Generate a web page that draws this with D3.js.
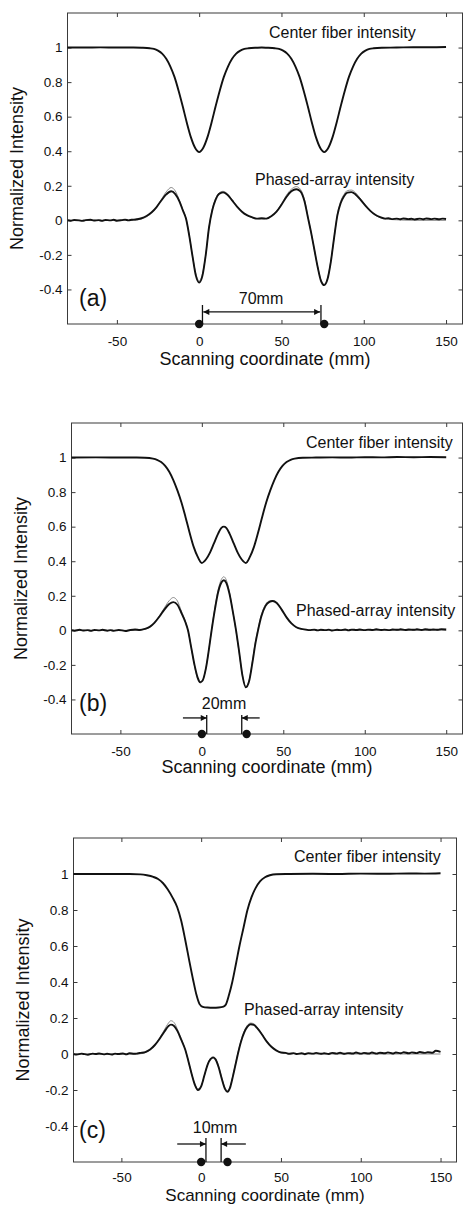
<!DOCTYPE html>
<meta charset="utf-8">
<head>
    <title>Center fiber and phased-array scans</title>
    <script src="https://cdn.jsdelivr.net/npm/d3@7/dist/d3.min.js"></script>
</head>

<style>
    body { margin: 0; background: #fff; }
    text { font-family: "Liberation Sans", Arial, sans-serif; fill: #111; }
    .frame { fill: none; stroke: #3a3a3a; stroke-width: 1; }
    .tick line { stroke: #3a3a3a; }
    .tick text { font-size: 13.5px; }
    .meas { fill: none; stroke: #111; stroke-width: 1.9; }
    .sim { fill: none; stroke: #8a8a8a; stroke-width: 1; }
    .note { stroke: #111; stroke-width: 1.3; fill: none; }
</style>

<svg width="463" height="1205"></svg>

<script>
    // axis settings shared by the three panels
    var xDomain = [-80, 160];
    var yDomain = [-0.6, 1.2];
    var xTicks = [-50, 0, 50, 100, 150];
    var yTicks = [-0.4, -0.2, 0, 0.2, 0.4, 0.6, 0.8, 1];

    // (a) two targets, 70mm apart
    var centerA = [[-80,1.0],[-70,1.0],[-60,1.001],[-50,1.0],[-40,1.0],[-35,0.999],[-30,0.996],[-27.5,0.992],[-25,0.982],[-22.5,0.965],[-20,0.935],[-17.5,0.89],[-15,0.83],[-12.5,0.75],[-10,0.66],[-7.5,0.565],[-5,0.48],[-2.5,0.42],[0,0.395],[2.5,0.42],[5,0.48],[7.5,0.565],[10,0.66],[12.5,0.75],[15,0.83],[17.5,0.89],[20,0.935],[22.5,0.965],[25,0.982],[27.5,0.992],[30,0.996],[35,0.999],[38,1.0],[41,0.999],[46,0.996],[48.5,0.992],[51,0.982],[53.5,0.965],[56,0.935],[58.5,0.89],[61,0.83],[63.5,0.75],[66,0.66],[68.5,0.565],[71,0.48],[73.5,0.42],[76,0.395],[78.5,0.42],[81,0.48],[83.5,0.565],[86,0.66],[88.5,0.75],[91,0.83],[93.5,0.89],[96,0.935],[98.5,0.965],[101,0.982],[103.5,0.992],[106,0.996],[111,0.999],[120,1.0],[130,1.002],[140,1.002],[150,1.003]];
    var phasedA = [[-80,0.001],[-78,-0.002],[-76,0.002],[-73,0.0],[-71,-0.003],[-69,0.001],[-66,0.003],[-64,-0.001],[-61,0.001],[-59,-0.003],[-57,0.002],[-54,0.0],[-52,0.003],[-50,-0.002],[-47,0.001],[-45,0.004],[-43,0.0],[-41,0.003],[-38,0.006],[-35,0.012],[-32,0.025],[-29,0.045],[-26,0.075],[-23,0.115],[-20,0.15],[-17,0.168],[-14.5,0.152],[-12,0.11],[-10,0.06],[-8,0.01],[-6,-0.09],[-4,-0.21],[-2,-0.32],[0,-0.36],[2,-0.32],[4,-0.2],[6,-0.04],[8,0.06],[10,0.12],[12,0.152],[14.5,0.162],[17,0.15],[20,0.115],[23,0.08],[26,0.05],[29,0.03],[32,0.018],[35,0.01],[38,0.012],[41,0.01],[44,0.025],[47,0.05],[50,0.09],[53,0.135],[56,0.168],[59,0.18],[61.5,0.168],[64,0.11],[66,0.02],[68,-0.07],[70,-0.17],[72,-0.27],[74,-0.35],[76,-0.375],[78,-0.34],[80,-0.24],[82,-0.1],[84,0.03],[86,0.1],[88,0.14],[90,0.16],[92.5,0.163],[95,0.15],[98,0.12],[101,0.085],[104,0.055],[107,0.032],[110,0.018],[113,0.01],[115,0.012],[117,0.007],[120,0.01],[122,0.006],[124,0.011],[127,0.007],[129,0.009],[131,0.005],[134,0.01],[136,0.006],[138,0.011],[141,0.007],[143,0.01],[146,0.006],[148,0.01],[150,0.008]];
    var simA = [[-80,0],[-40,0],[-35,0.008],[-32,0.02],[-29,0.042],[-26,0.075],[-23,0.12],[-20,0.165],[-17,0.19],[-14.5,0.17],[-12,0.115],[-10,0.065],[-8,0.01],[-6,-0.09],[-4,-0.21],[-2,-0.31],[0,-0.35],[2,-0.31],[4,-0.2],[6,-0.04],[8,0.065],[10,0.125],[12,0.158],[14.5,0.168],[17,0.155],[20,0.12],[23,0.082],[26,0.05],[29,0.03],[32,0.016],[35,0.01],[38,0.008],[41,0.012],[44,0.025],[47,0.052],[50,0.095],[53,0.145],[56,0.18],[59,0.195],[61.5,0.18],[64,0.12],[66,0.025],[68,-0.07],[70,-0.17],[72,-0.27],[74,-0.345],[76,-0.37],[78,-0.335],[80,-0.235],[82,-0.1],[84,0.035],[86,0.11],[88,0.15],[90,0.172],[92.5,0.175],[95,0.16],[98,0.125],[101,0.088],[104,0.055],[107,0.03],[110,0.015],[115,0.006],[120,0.003],[130,0],[150,0]];
    var dotsA = [0, 76];
    var barsA = [2, 74];

    // (b) two targets, 20mm apart
    var centerB = [[-80,1.0],[-65,1.001],[-50,1.0],[-40,1.0],[-35,0.999],[-30,0.994],[-27.5,0.987],[-25,0.974],[-22.5,0.952],[-20,0.918],[-17.5,0.87],[-15,0.81],[-12.5,0.74],[-10,0.655],[-7.5,0.565],[-5,0.483],[-2.5,0.425],[0,0.39],[2.5,0.41],[5,0.45],[7.5,0.505],[10,0.56],[12,0.593],[13.5,0.6],[15,0.593],[17,0.56],[19.5,0.505],[22,0.45],[24.5,0.41],[27,0.39],[29.5,0.425],[32,0.483],[34.5,0.565],[37,0.655],[39.5,0.74],[42,0.81],[44.5,0.87],[47,0.918],[49.5,0.952],[52,0.974],[54.5,0.987],[57,0.994],[62,0.999],[70,1.0],[80,1.001],[90,1.0],[100,1.002],[110,1.001],[120,1.003],[130,1.002],[140,1.003],[150,1.002]];
    var phasedB = [[-80,0.001],[-78,-0.002],[-75,0.003],[-73,-0.001],[-70,0.001],[-68,-0.003],[-66,0.002],[-63,0.0],[-61,0.003],[-58,-0.002],[-56,0.001],[-54,-0.003],[-51,0.002],[-49,0.0],[-47,-0.004],[-44,0.002],[-41,0.005],[-38,0.002],[-35,0.008],[-32,0.02],[-29,0.045],[-26,0.08],[-23,0.12],[-20,0.152],[-17.5,0.163],[-15,0.148],[-12.5,0.1],[-10,0.045],[-8.5,0.0],[-6.5,-0.1],[-4.5,-0.2],[-2.5,-0.275],[-1,-0.3],[0.5,-0.29],[2.5,-0.22],[4.5,-0.1],[6,0.0],[8,0.12],[10,0.22],[12,0.277],[13.5,0.29],[15,0.275],[17,0.21],[19,0.11],[21,0.0],[23,-0.13],[25,-0.265],[27,-0.33],[29,-0.295],[31,-0.19],[33,-0.07],[34.5,0.0],[36.5,0.08],[39,0.14],[41.5,0.165],[43.5,0.17],[46,0.158],[49,0.12],[52,0.075],[55,0.04],[58,0.018],[61,0.008],[64,0.004],[66,0.001],[69,0.004],[71,0.0],[73,0.003],[76,0.001],[78,0.004],[80,-0.001],[83,0.003],[85,0.001],[88,0.005],[90,0.0],[92,0.004],[95,0.002],[97,0.005],[100,0.001],[102,0.004],[105,0.002],[107,0.006],[110,0.002],[112,0.004],[115,0.001],[117,0.005],[120,0.003],[122,0.006],[125,0.002],[127,0.005],[130,0.003],[132,0.006],[135,0.002],[137,0.006],[140,0.003],[142,0.005],[145,0.003],[147,0.007],[150,0.005]];
    var simB = [[-80,0],[-40,0],[-35,0.006],[-32,0.018],[-29,0.045],[-26,0.085],[-23,0.13],[-20,0.172],[-17.5,0.19],[-15,0.17],[-12.5,0.11],[-10,0.05],[-8.5,0.0],[-6.5,-0.1],[-4.5,-0.205],[-2.5,-0.285],[-1,-0.305],[0.5,-0.29],[2.5,-0.22],[4.5,-0.1],[6,0.005],[8,0.13],[10,0.235],[12,0.295],[13.5,0.31],[15,0.292],[17,0.22],[19,0.11],[21,-0.005],[23,-0.135],[25,-0.265],[27,-0.325],[29,-0.29],[31,-0.18],[33,-0.06],[34.5,0.01],[36.5,0.09],[39,0.148],[41.5,0.17],[43.5,0.172],[46,0.16],[49,0.12],[52,0.075],[55,0.04],[58,0.018],[61,0.007],[65,0.002],[75,0],[150,0]];
    var dotsB = [0, 27.5];
    var barsB = [3, 24.5];

    // (c) two targets, 10mm apart
    var centerC = [[-80,1.0],[-60,1.0],[-45,1.0],[-38,0.998],[-34,0.993],[-30,0.984],[-27,0.972],[-24,0.95],[-21,0.915],[-18,0.87],[-15,0.815],[-12.5,0.74],[-10,0.635],[-7.5,0.52],[-5,0.41],[-3,0.33],[-1,0.277],[1,0.262],[4,0.258],[7.5,0.257],[11,0.258],[14,0.263],[15.5,0.275],[17.5,0.33],[19.5,0.4],[22,0.51],[24,0.6],[26.5,0.7],[29,0.8],[31.5,0.87],[34,0.92],[37,0.96],[40,0.982],[43,0.993],[47,0.999],[55,1.0],[70,1.001],[85,1.0],[100,1.002],[115,1.001],[130,1.003],[140,1.002],[150,1.004]];
    var phasedC = [[-80,0.0],[-78,-0.003],[-75,0.002],[-73,-0.001],[-71,-0.004],[-68,0.002],[-66,0.0],[-64,0.003],[-61,-0.002],[-59,0.001],[-56,-0.003],[-54,0.002],[-52,0.0],[-49,0.003],[-47,-0.002],[-45,0.004],[-42,0.001],[-40,0.003],[-38,0.006],[-35,0.011],[-32,0.025],[-29,0.05],[-26,0.085],[-23,0.125],[-20.5,0.155],[-19,0.163],[-17,0.156],[-15,0.13],[-12.5,0.08],[-10,0.025],[-8,-0.04],[-6,-0.11],[-4,-0.17],[-2,-0.2],[0,-0.18],[2,-0.12],[4,-0.06],[6,-0.027],[7.5,-0.02],[9,-0.03],[11,-0.075],[13,-0.14],[15,-0.195],[16.5,-0.21],[18,-0.19],[20,-0.12],[22,-0.04],[23,0.0],[25,0.07],[27,0.12],[29,0.152],[31,0.165],[33,0.162],[35,0.145],[38,0.11],[41,0.07],[44,0.04],[47,0.02],[50,0.008],[53,0.006],[55,0.001],[58,0.005],[60,0.0],[63,0.004],[65,-0.001],[67,0.005],[70,0.002],[72,0.006],[75,0.001],[77,0.004],[80,0.0],[82,0.006],[85,0.002],[87,0.007],[90,0.001],[92,0.005],[95,0.003],[97,0.008],[100,0.002],[102,0.006],[105,0.003],[107,0.008],[110,0.002],[112,0.007],[115,0.004],[117,0.009],[120,0.003],[122,0.008],[125,0.004],[127,0.01],[130,0.004],[132,0.009],[135,0.005],[137,0.011],[140,0.006],[142,0.01],[145,0.007],[147,0.018],[150,0.012]];
    var simC = [[-80,0],[-40,0],[-35,0.008],[-32,0.022],[-29,0.05],[-26,0.09],[-23,0.135],[-20.5,0.172],[-19,0.185],[-17,0.175],[-15,0.14],[-12.5,0.085],[-10,0.025],[-8,-0.04],[-6,-0.11],[-4,-0.165],[-2,-0.195],[0,-0.178],[2,-0.12],[4,-0.058],[6,-0.022],[7.5,-0.015],[9,-0.025],[11,-0.07],[13,-0.135],[15,-0.19],[16.5,-0.205],[18,-0.185],[20,-0.115],[22,-0.035],[23,0.005],[25,0.075],[27,0.128],[29,0.16],[31,0.172],[33,0.168],[35,0.15],[38,0.112],[41,0.072],[44,0.042],[47,0.02],[50,0.008],[55,0.002],[65,0],[150,0]];
    var dotsC = [0, 16.5];
    var barsC = [3, 12.5];

    // page layout of each panel (pixels)
    var panels = [
        { tag: "(a)", gap: "70mm", center: centerA, phased: phasedA, sim: simA, dots: dotsA, bars: barsA,
          box: [67.5, 462.5, 13, 324], ylab: 23, pad: 12, title: [41, 18], cLab: [269, 38], pLab: [255, 185], tagPos: [79, 306], gapPos: [261, 304],
          barTop: -0.49, arrowY: -0.53, arrows: [[2.5, 73.5, "both"]] },
        { tag: "(b)", gap: "20mm", center: centerB, phased: phasedB, sim: simB, dots: dotsB, bars: barsB,
          box: [71.5, 462.5, 423, 734], ylab: 26.5, pad: 12, title: [39, 18], cLab: [306, 448], pLab: [296, 616], tagPos: [79, 711], gapPos: [224, 709],
          barTop: -0.49, arrowY: -0.507, arrows: [[-11.6, 3, "end"], [35.5, 24.5, "end"]] },
        { tag: "(c)", gap: "10mm", center: centerC, phased: phasedC, sim: simC, dots: dotsC, bars: barsC,
          box: [73.5, 456.5, 838, 1162], ylab: 28.5, pad: 10.5, title: [39.3, 17], cLab: [294, 862], pLab: [244, 1015], tagPos: [79, 1138], gapPos: [215, 1133],
          barTop: -0.467, arrowY: -0.5, arrows: [[-15, 3, "end"], [28, 12.5, "end"]] }
    ];

    var svg = d3.select("svg");

    svg.append("defs").append("marker")
        .attr("id", "head")
        .attr("viewBox", "0 0 10 10")
        .attr("refX", 10).attr("refY", 5)
        .attr("markerUnits", "userSpaceOnUse")
        .attr("markerWidth", 8).attr("markerHeight", 6)
        .attr("orient", "auto-start-reverse")
        .append("path").attr("d", "M0,0L10,5L0,10Z").attr("fill", "#111");

    panels.forEach(function (p) {
        var x = d3.scaleLinear().domain(xDomain).range([p.box[0], p.box[1]]);
        var y = d3.scaleLinear().domain(yDomain).range([p.box[3], p.box[2]]);
        var g = svg.append("g");

        // ticks on all four sides, pointing in
        g.append("g").attr("transform", "translate(0," + p.box[3] + ")")
            .call(d3.axisBottom(x).tickValues(xTicks).tickSize(-4).tickPadding(p.pad).tickFormat(String));
        g.append("g").attr("transform", "translate(0," + p.box[2] + ")")
            .call(d3.axisTop(x).tickValues(xTicks).tickSize(-4).tickFormat(""));
        g.append("g").attr("transform", "translate(" + p.box[0] + ",0)")
            .call(d3.axisLeft(y).tickValues(yTicks).tickSize(-4).tickPadding(5).tickFormat(String));
        g.append("g").attr("transform", "translate(" + p.box[1] + ",0)")
            .call(d3.axisRight(y).tickValues(yTicks).tickSize(-4).tickFormat(""));
        g.selectAll(".domain").remove();
        g.selectAll(".tick text").attr("fill", "#111");

        g.append("rect").attr("class", "frame")
            .attr("x", p.box[0]).attr("y", p.box[2])
            .attr("width", p.box[1] - p.box[0]).attr("height", p.box[3] - p.box[2]);

        // axis titles
        g.append("text")
            .attr("x", (p.box[0] + p.box[1]) / 2).attr("y", p.box[3] + p.title[0])
            .attr("text-anchor", "middle").attr("font-size", p.title[1])
            .text("Scanning coordinate (mm)");
        g.append("text")
            .attr("transform", "translate(" + p.ylab + "," + (p.box[2] + p.box[3]) / 2 + ") rotate(-90)")
            .attr("text-anchor", "middle").attr("font-size", 18)
            .text("Normalized Intensity");

        var line = d3.line()
            .x(function (d) { return x(d[0]); })
            .y(function (d) { return y(d[1]); })
            .curve(d3.curveMonotoneX);

        g.append("path").attr("class", "sim").attr("d", line(p.sim));
        g.append("path").attr("class", "meas").attr("d", line(p.phased));
        g.append("path").attr("class", "meas").attr("d", line(p.center));

        g.append("text").attr("x", p.cLab[0]).attr("y", p.cLab[1]).attr("font-size", 16).text("Center fiber intensity");
        g.append("text").attr("x", p.pLab[0]).attr("y", p.pLab[1]).attr("font-size", 16).text("Phased-array intensity");
        g.append("text").attr("x", p.tagPos[0]).attr("y", p.tagPos[1]).attr("font-size", 23).text(p.tag);
        g.append("text").attr("x", p.gapPos[0]).attr("y", p.gapPos[1]).attr("text-anchor", "middle")
            .attr("font-size", 16).text(p.gap);

        // target markers
        g.selectAll(".bar").data(p.bars).enter().append("line").attr("class", "note")
            .attr("x1", function (d) { return x(d); }).attr("x2", function (d) { return x(d); })
            .attr("y1", y(yDomain[0])).attr("y2", y(p.barTop));
        g.selectAll(".arr").data(p.arrows).enter().append("line").attr("class", "note")
            .attr("x1", function (d) { return x(d[0]); }).attr("x2", function (d) { return x(d[1]); })
            .attr("y1", y(p.arrowY)).attr("y2", y(p.arrowY))
            .attr("marker-end", "url(#head)")
            .attr("marker-start", function (d) { return d[2] === "both" ? "url(#head)" : null; });
        g.selectAll(".dot").data(p.dots).enter().append("circle")
            .attr("cx", function (d) { return x(d); }).attr("cy", y(yDomain[0]))
            .attr("r", 4.2).attr("fill", "#111");
    });
</script>
